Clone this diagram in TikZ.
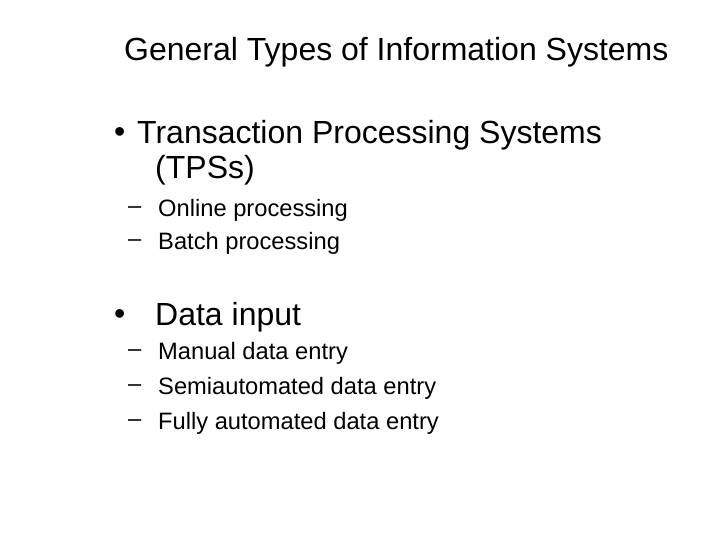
\documentclass[tikz,border=0pt]{standalone}
\usepackage{fontspec}
\setmainfont{Liberation Sans}
\begin{document}
\begin{tikzpicture}[x=1pt,y=-1pt,
  title/.style={anchor=west,inner sep=0pt,font=\fontsize{32}{36}\selectfont},
  lvl/.style={anchor=west,inner sep=0pt,font=\fontsize{32}{36}\selectfont},
  sub/.style={anchor=west,inner sep=0pt,font=\fontsize{23.7}{28}\selectfont}]
\useasboundingbox (0,0) rectangle (720,540);
\node[title] (t) at (124,52) {General Types of Information Systems};
\node[lvl] (b1) at (114,135) {•};
\node[lvl] (l1) at (137,135) {Transaction Processing Systems};
\node[lvl] (l1b) at (155,170) {(TPSs)};
\node[sub] (d1) at (128,210) {–};
\node[sub] (s1) at (158,210) {Online processing};
\node[sub] (d2) at (128,243) {–};
\node[sub] (s2) at (158,243) {Batch processing};
\node[lvl] (b2) at (114,317) {•};
\node[lvl] (l2) at (155,317) {Data input};
\node[sub] (d3) at (128,353) {–};
\node[sub] (s3) at (158,353) {Manual data entry};
\node[sub] (d4) at (128,388) {–};
\node[sub] (s4) at (158,388) {Semiautomated data entry};
\node[sub] (d5) at (128,423) {–};
\node[sub] (s5) at (158,423) {Fully automated data entry};
\end{tikzpicture}
\end{document}
